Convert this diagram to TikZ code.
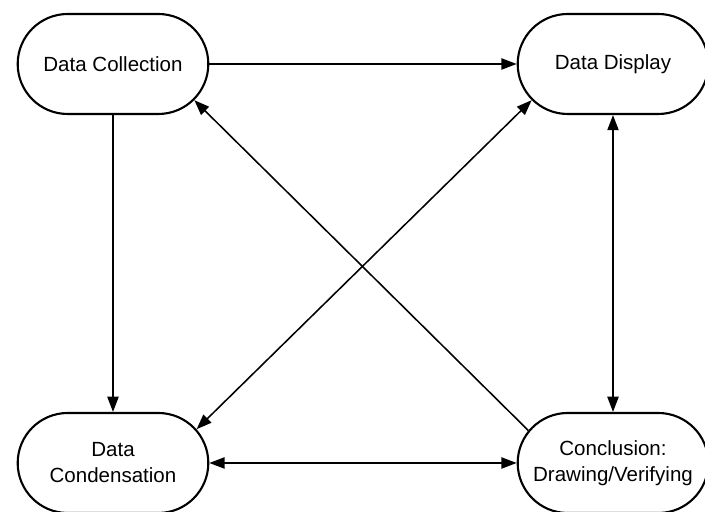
\documentclass[tikz,border=0pt]{standalone}
\usepackage{fontspec}
\setmainfont{Liberation Sans}
\usetikzlibrary{arrows.meta, positioning, shapes.misc}

\begin{document}
\begin{tikzpicture}[
    stage/.style={draw, line width=1.5pt, fill=white, rounded rectangle, minimum width=5cm, minimum height=2.5cm, align=center, font=\fontsize{14.6}{18.5}\selectfont},
    flow/.style={line width=1.1pt, -{Triangle[length=0.38cm, width=0.28cm]}},
    both/.style={line width=1.1pt, {Triangle[length=0.38cm, width=0.28cm]}-{Triangle[length=0.38cm, width=0.28cm]}}
]
\useasboundingbox (0,0) rectangle (17.625,12.8);

% Stages
\node[stage] (collect) at (2.825,11.2) {Data Collection};
\node[stage] (display) at (15.325,11.2) {Data Display};
\node[stage] (condense) at (2.825,1.225) {Data\\Condensation};
\node[stage] (conclude) at (15.325,1.225) {Conclusion:\\Drawing/Verifying};

% Connections
\draw[flow] (collect.east) -- (display.west);
\draw[flow] (collect.south) -- (condense.north);
\draw[both] (display.south) -- (conclude.north);
\draw[both] (condense.east) -- (conclude.west);
\draw[flow] (conclude.159) -- (collect.-24);
\draw[both] (condense.22) -- (display.204);

\end{tikzpicture}
\end{document}
